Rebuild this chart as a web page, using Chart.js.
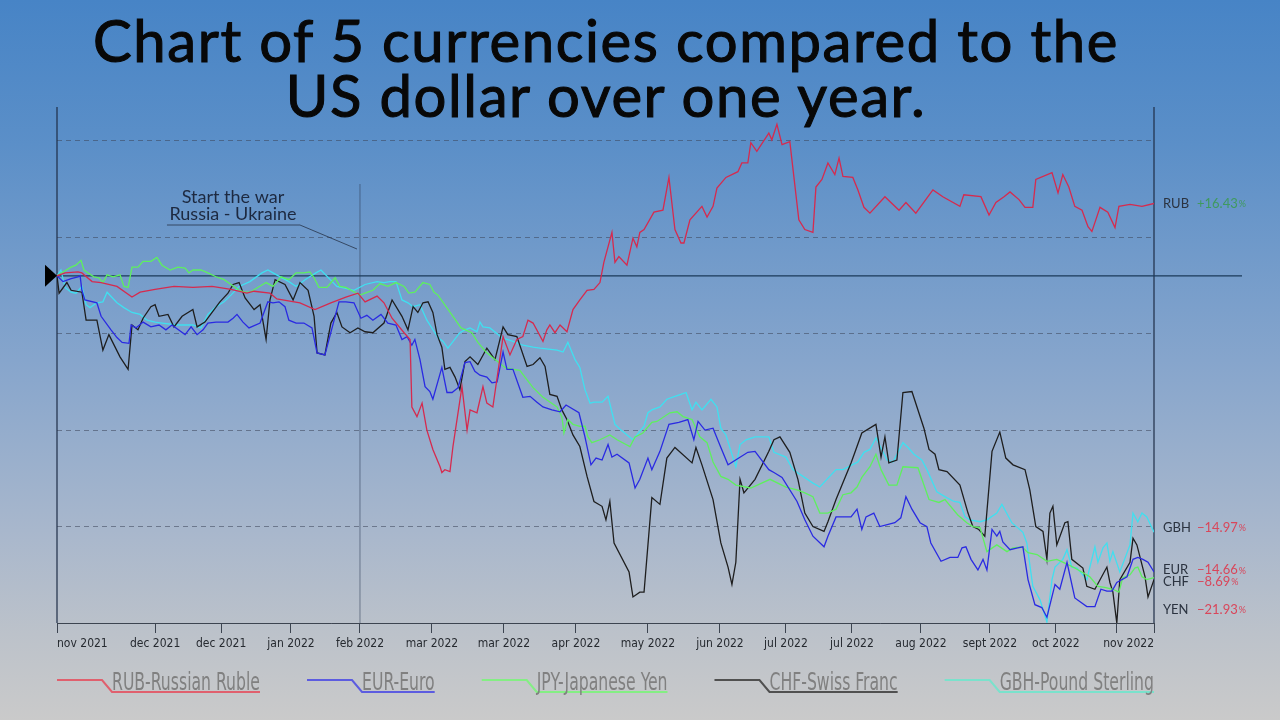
<!DOCTYPE html>
<html lang="en">
<head>
<meta charset="UTF-8">
<title>5 currencies vs US dollar</title>
<script src="https://cdn.jsdelivr.net/npm/chart.js"></script>
<style>
  html, body { margin: 0; padding: 0; }
  body {
    width: 1280px; height: 720px; overflow: hidden; position: relative;
    background: linear-gradient(to bottom, #4784c6 0%, #5b8fc8 20%, #86a5cc 50%, #aab8cc 75%, #bcc2ca 88%, #cacaca 100%);
  }
  #title {
    position: absolute; left: 0; top: 12px; width: 1212px; text-align: center;
    font-family: Lato, 'Open Sans', sans-serif; font-weight: 400; font-size: 58px; line-height: 55px;
    letter-spacing: 1.6px; -webkit-text-stroke: 1.1px #080808;
    color: #080808; pointer-events: none; z-index: 2;
  }
  #chart { position: absolute; left: 0; top: 0; }
</style>
</head>
<body>
<div id="title">Chart of 5 currencies compared to the<br>US dollar over one year.</div>
<canvas id="chart" width="1280" height="720"></canvas>
<script>
// x = days since start (nov 2021), y = change vs USD (grid step = 10)
const tickDays = [0, 32.7, 54.7, 78, 101, 125, 149, 173, 197, 221, 243, 265, 288, 311, 333, 353.3, 365.7];
const tickLabels = ['nov 2021', 'dec 2021', 'dec 2021', 'jan 2022', 'feb 2022', 'mar 2022', 'mar 2022', 'apr 2022',
  'may 2022', 'jun 2022', 'jul 2022', 'jul 2022', 'aug 2022', 'sept 2022', 'oct 2022', '', 'nov 2022'];
const gridLevels = [-36, -26, -16, -6, 4, 14];

const rub = [[0,0],[2.7,0.3],[7,0.4],[8.3,0.3],[11.7,-0.6],[14.7,-0.7],[20,-1.1],[25,-2.2],[27.7,-1.7],[32.7,-1.4],[39,-1.1],[45.3,-1.2],[51.7,-1.1],[58,-1.4],[63.3,-1.8],[65.7,-1.6],[71,-1.8],[73.3,-2.4],[81,-2.8],[86,-3.5],[91.3,-2.8],[96.3,-2.2],[100.3,-1.8],[102.7,-2.7],[106.7,-2.1],[109,-2.8],[111.7,-4.4],[115.7,-5.9],[117.7,-6.6],[118.3,-13.6],[120,-14.6],[121.7,-13.2],[123.3,-16],[125.3,-18],[127.7,-19.8],[128.3,-20.4],[129.3,-20.1],[131,-20.3],[132,-17.7],[135,-11.5],[136.7,-16],[137.7,-13.9],[140,-14.2],[142,-11.5],[143.3,-13.2],[145.3,-13.6],[148.7,-6.3],[151,-8.2],[153.3,-6.6],[155.3,-6.3],[157,-4.6],[158.7,-4.9],[162,-6.8],[163.3,-5.6],[164.3,-5.1],[166,-5.9],[167.7,-5.1],[170,-5.8],[172,-3.5],[174.3,-2.5],[176.7,-1.5],[179,-1.4],[181,-0.7],[182.3,1.4],[185,4.5],[186,1.4],[187.3,2],[190,1.1],[192,3.9],[193.3,3],[194.3,4.5],[195.7,4.8],[199,6.6],[202,6.8],[204,10.2],[206,4.8],[208,3.4],[209,3.4],[211,5.8],[215,7.2],[216.7,6.1],[218.7,7.2],[220,9.1],[223,10.2],[227,10.8],[228.3,11.7],[230.3,11.7],[231.3,13.8],[233.3,12.9],[237.3,14.8],[238.3,14.1],[240,15.7],[241.7,13.6],[244.3,13.9],[247.3,5.8],[249.3,4.8],[252,4.5],[253,9.2],[255,10],[257,11.7],[259.3,10.5],[260.7,12.2],[262,10.3],[265.3,10.2],[267,8.9],[269,7.1],[271,6.5],[276,8.2],[280.7,6.8],[283,7.6],[286.3,6.5],[292,8.9],[295.3,8.2],[301,7.2],[302.3,8.4],[308,8.2],[310.7,6.3],[313,7.6],[315.7,8.2],[317.7,8.7],[320.7,7.9],[322.7,7.1],[325.3,7.1],[326.3,10],[331.7,10.7],[333.7,8.6],[335.3,10.5],[337.3,9.2],[339.3,7.2],[341.7,6.8],[343.7,5.1],[345,4.6],[346.3,5.8],[347.7,7.1],[350.3,6.6],[352.7,5],[354,7.2],[357.7,7.4],[361.7,7.2],[365.7,7.5]];

const eur = [[0,0],[2,-0.6],[4.7,-0.3],[7,-0.1],[7.7,0],[8.3,-1.5],[9.3,-2.5],[13.3,-2.8],[14.7,-4.2],[18,-5.6],[20,-6.4],[21.7,-6.9],[24,-7],[24.7,-5.1],[26.3,-5.4],[28.7,-4.8],[31.3,-5.3],[34,-5.1],[36.3,-5.6],[38.3,-5.1],[42.7,-6.1],[44.7,-5.3],[46.7,-6.1],[48.7,-5.6],[50.3,-4.9],[53,-4.8],[57,-4.8],[58.7,-4.4],[60,-4],[62,-4.8],[64,-5.4],[67.7,-4.9],[70.3,-2.7],[72,-2.8],[74,-2.7],[76,-3.2],[77.3,-4.6],[79.7,-4.9],[82.3,-4.9],[85,-5.4],[86.7,-8],[89.3,-8.2],[94,-2.7],[96.3,-2.7],[99,-2.8],[101.3,-4.4],[103.3,-4.1],[105.3,-4.6],[108,-4],[110.3,-4.9],[113,-5.1],[115,-6.6],[116.7,-6.3],[118.3,-7.2],[119.3,-6.6],[121,-8.7],[122.7,-11.5],[124.3,-12],[125.3,-12.8],[128.3,-9.5],[130,-12.1],[131.7,-12.1],[133.7,-11.6],[136,-9],[137.7,-8.9],[139.3,-9.9],[141,-10.3],[143.3,-10.5],[145,-11.1],[146.7,-11],[148.7,-7.9],[150,-9.7],[152,-9.7],[155.3,-12.6],[157.7,-12.5],[160,-13.1],[162,-13.6],[165,-13.9],[167.7,-14.1],[169.7,-13.4],[174,-14.2],[176,-16.7],[178,-19.6],[179.7,-18.9],[181.7,-19.1],[183.7,-17.5],[185,-18.8],[186.7,-18.5],[190.7,-19.4],[192.7,-22],[194.3,-21.1],[197,-18.9],[198.3,-20.1],[201,-18.2],[204,-15.4],[207.3,-15.2],[210.3,-14.9],[212.3,-17],[213.7,-15.1],[216,-16],[218.7,-15.8],[221.3,-17.8],[223.7,-19.6],[230.3,-18.3],[232.7,-18.2],[237.3,-20.1],[239,-20.4],[241.7,-20.9],[246.7,-23.4],[249.3,-25.3],[252,-27],[255.7,-28.1],[257,-27],[259.7,-25],[264.7,-25],[266.7,-24.2],[268.3,-26.3],[269.7,-25],[272.3,-24.6],[274.3,-26],[279.3,-25.6],[281.3,-25.1],[283,-22.9],[285,-24.2],[287.7,-25.6],[290,-26],[291.3,-27.7],[294.7,-29.6],[297.7,-29.2],[300.3,-29.2],[301.7,-28.2],[303,-28.1],[304.7,-29.4],[307,-30.5],[308.7,-29.4],[310,-30.5],[311.7,-26.3],[313.3,-27],[314.3,-26.5],[315.3,-27.6],[317.7,-28.4],[320.3,-28.2],[322,-28.1],[323.7,-31.5],[326,-34.1],[328.3,-34.4],[330,-35.4],[332.7,-32],[334.3,-32.5],[336.7,-29.7],[339.3,-33.4],[343.3,-34.3],[346,-34.3],[348,-32.5],[350,-32.7],[351.7,-32.7],[353.3,-31.8],[356.7,-31.2],[358.7,-29.4],[360.3,-29.2],[362,-29.4],[363.7,-29.7],[365.7,-30.7]];

const jpy = [[0,0],[2,0.4],[4.7,0.9],[6.3,1.1],[8,1.6],[9,0.6],[10.3,0.3],[12.3,-0.1],[14,-0.2],[15.3,-0.7],[16.7,0.1],[18.7,-0.1],[21,0.1],[22.3,-1.1],[23.7,-1.2],[25,0.9],[27,0.9],[28.7,1.5],[31.3,1.5],[33.3,1.9],[35,1.1],[37.7,0.6],[40.3,0.9],[42.7,0.8],[44,0.3],[45.3,0.6],[48,0.6],[50.3,0.3],[53,-0.1],[55.7,-0.4],[58,-0.9],[60.7,-1.5],[62.7,-1.7],[64.3,-1.7],[69.7,-0.7],[72,-1.1],[74.7,-0.1],[77.3,-0.4],[79.7,0.3],[82.3,0.3],[84.3,0.4],[85.7,-0.2],[87.3,-1.2],[90,-1.2],[92.7,-0.2],[94.3,-1.1],[96.3,-1.2],[101,-2],[102.7,-1.8],[105.3,-1.5],[107.7,-0.8],[110.3,-1.1],[113,-0.7],[115.7,-1.1],[117.3,-1.8],[119.3,-1.7],[122,-0.7],[124.3,-0.9],[125.7,-1.7],[127,-2],[129.7,-3.2],[132,-4.2],[134.7,-5.4],[138.3,-5.9],[140.3,-6.9],[143,-7.9],[145.3,-8.5],[147.3,-9],[149.3,-9.5],[152,-9.7],[154.3,-9.8],[156.7,-10.8],[158.7,-11.6],[162,-12.6],[166.7,-13.6],[168.3,-14.6],[169,-16.3],[170.3,-14.9],[172,-15.4],[174.3,-15.6],[176,-15.6],[177,-16.7],[178.3,-17.3],[181,-17],[184.3,-16.5],[186.7,-17],[191,-17.7],[192.7,-16.7],[195.3,-16.3],[198.3,-15.2],[200,-15.1],[204.3,-14.2],[206.7,-14.1],[208.7,-14.6],[211.7,-14.9],[214.3,-16.7],[216.7,-17.3],[218.7,-19.3],[221.3,-20.8],[223.7,-21.1],[226.3,-21.7],[231.3,-22],[237.7,-21.1],[243,-21.9],[246.7,-22.2],[249.3,-22.5],[252,-22.9],[254.3,-24.6],[257,-24.6],[259.7,-24.2],[262,-22.7],[264.7,-22.5],[266.7,-21.9],[268.3,-20.9],[271,-19.8],[273,-18.5],[274.7,-20.1],[277.3,-21.7],[280,-21.7],[282,-19.8],[287,-19.9],[290.7,-23.2],[294,-23.5],[296,-23.2],[300.3,-24.8],[303.3,-25.6],[305.3,-26],[307.7,-26.1],[310,-28.6],[313.3,-27.9],[316.7,-28.6],[318.7,-28.2],[321.7,-28.1],[323.7,-28.7],[326.7,-28.9],[330,-29.6],[333.3,-29.4],[336.7,-29.9],[339.3,-30.3],[344.3,-31.2],[347,-32.2],[349.3,-32.3],[352,-32.5],[354,-32.8],[355.3,-31.3],[357.7,-31],[359.3,-30.3],[360.3,-30.2],[361.7,-31.2],[363.3,-31.5],[365.7,-31.3]];

const chf = [[0,0],[0.7,-1.8],[3.3,-0.7],[4.7,-1.5],[8.3,-1.7],[9.7,-4.6],[13.3,-4.6],[15.3,-7.7],[17.3,-6.1],[21,-8.4],[23.7,-9.7],[25,-5.1],[27,-5.6],[28.7,-4.4],[31.3,-3.2],[32.7,-3],[34,-4.2],[37,-4],[39,-5.3],[41.7,-4.2],[45.3,-3.5],[46.7,-5.3],[49.3,-4.8],[51.7,-3.8],[54.3,-2.7],[57,-1.8],[58.7,-0.9],[60.7,-0.7],[62.7,-2.3],[65.7,-3.5],[67.7,-3],[69.7,-6.6],[71,-2.5],[72.7,-0.4],[76,-0.9],[78.7,-2.5],[81,-0.7],[83.7,-1.5],[85.7,-4.2],[86.7,-8],[89.3,-8.2],[91.3,-4.9],[93.3,-3.8],[95,-5.3],[97.7,-5.9],[100.3,-5.4],[102.7,-5.8],[105.3,-5.9],[109,-4.9],[111.7,-2.5],[115,-4.2],[117,-5.6],[118.7,-3.2],[120.3,-3.8],[122,-2.8],[123.7,-2.7],[125.3,-3.8],[126.7,-6.1],[128.3,-7.4],[129.3,-9.7],[131,-9.5],[132.7,-10.5],[134.3,-11.8],[136,-8.9],[137.7,-8.4],[140.3,-9.2],[143.3,-7.5],[146,-8.7],[148.7,-5.3],[150.3,-6.1],[153.3,-6.3],[156.7,-9.4],[158.7,-9.2],[161,-8.5],[162.7,-9.4],[164.3,-12.3],[166.7,-12.5],[168.3,-13.9],[170,-14.9],[172,-16.5],[174.3,-17.7],[176.7,-20.8],[179,-23.4],[181.7,-23.9],[183,-25.3],[184.3,-23.4],[185.7,-27.7],[190.7,-30.7],[192,-33.3],[194.3,-32.8],[195.7,-32.8],[198.3,-23],[201,-23.7],[203.3,-18.9],[206,-17.8],[211.7,-19.4],[213,-17.8],[215,-19.6],[218.7,-23.2],[221.3,-27.7],[223.7,-30.2],[225,-32],[226.3,-29.7],[227.7,-21.1],[229,-22.5],[232.7,-21.1],[237.3,-18.2],[239,-17],[241,-16.7],[244.3,-18.3],[247,-21.1],[249.3,-24.6],[252,-26],[255.7,-26.5],[257,-25.5],[259.7,-23.2],[264.7,-19.4],[266,-18.3],[268.3,-16.3],[273,-15.4],[274.7,-18.8],[276,-16.7],[277.3,-19.4],[280,-19.1],[282,-12.1],[285,-12],[289,-15.8],[290.7,-18],[292.7,-18.5],[294,-20.1],[296.7,-20.3],[301,-21.7],[303.7,-24.6],[305.3,-26],[307.3,-26.3],[309.3,-27],[311.7,-18.2],[314.3,-16.2],[316.3,-18.9],[318.7,-19.6],[322.7,-20.1],[324.3,-22.2],[326.3,-26],[328.7,-26.5],[330,-29.4],[331,-24.6],[332,-23.9],[333.3,-27.9],[336,-25.6],[337,-25.5],[338.3,-29.4],[342,-30.3],[343.3,-32.2],[346,-32.5],[350,-30.2],[351,-31.8],[352,-32.8],[353.3,-36],[354.3,-31.5],[357.7,-29.7],[358.7,-27.2],[360,-27.9],[362.7,-31.2],[363.7,-33.3],[365.7,-31.5]];

const gbp = [[0,0],[1.3,0.6],[2.7,-1.2],[4.7,-1.7],[6.3,-1.8],[8.3,-1.1],[9.7,-3],[11,-3.3],[13.3,-2.8],[15.3,-2.7],[16.7,-1.7],[20,-2.8],[22.3,-3.3],[25,-3.8],[27.7,-4],[30,-4.6],[32.7,-4.8],[35,-4.9],[40.3,-5.1],[45.3,-5.1],[48,-5.4],[50.3,-4],[53,-3.2],[55.7,-2.7],[58,-2],[60.7,-1.1],[64.3,-0.6],[68.3,0.3],[70.3,0.6],[72,0.3],[77.3,-0.6],[79.7,-1.1],[82.7,-0.4],[86.3,0.3],[88,0.6],[93.3,-1.1],[99,-1.5],[102.7,-0.9],[106.7,-0.6],[109,-0.7],[111,-0.6],[113,-0.6],[115,-2.5],[117,-2.8],[118.7,-3.2],[121,-3],[123.3,-4.6],[127,-6.4],[128.7,-6.8],[130.3,-7.5],[134.3,-5.9],[136,-5.6],[137.7,-5.4],[140,-5.8],[141,-4.8],[142,-5.3],[144.3,-5.4],[148.3,-6.4],[150,-6.6],[152,-6.8],[155.3,-7.2],[158.7,-7.4],[161,-7.5],[166.7,-7.7],[168.7,-7.9],[170.3,-6.9],[172.7,-8.7],[174.3,-9.5],[176,-11.8],[177.7,-13.2],[179,-13.1],[181.7,-13.1],[183.7,-12.5],[186,-15.4],[188,-16],[192,-17],[195.7,-15.6],[197,-14.2],[198.3,-13.9],[201,-13.6],[203.3,-12.8],[206,-12.5],[208,-12.3],[209.7,-12.1],[211.7,-13.9],[213,-13.1],[215,-13.9],[218,-12.8],[220,-13.6],[221.3,-15.8],[223,-16.5],[226.3,-19.8],[227.7,-17.5],[229.7,-17],[232.7,-16.7],[237.3,-16.7],[239,-18.3],[243,-18.8],[245.3,-20.1],[252,-21.5],[254.3,-21.9],[259.7,-20.1],[262,-20.1],[267,-19.3],[269,-18.3],[271,-18],[273,-16.8],[276.7,-19.1],[278.7,-19.3],[282,-17.3],[283.7,-17.8],[285.7,-18.5],[288.3,-19.1],[290,-20.1],[293.3,-22.4],[296,-22.9],[299,-23.4],[301,-23.5],[302.7,-25],[304.3,-25.3],[307.7,-25.5],[310,-25.3],[313.3,-24.6],[315,-23.7],[318.3,-25.6],[322,-26.6],[323.3,-27.7],[325.3,-32.2],[327.7,-33.6],[330,-35.9],[331.7,-31.5],[332.7,-30.2],[335.3,-29.4],[336.7,-28.4],[338.3,-30.2],[340,-30.3],[343.3,-31.5],[346,-28.1],[347,-29.7],[348.7,-28.2],[350,-27.7],[351,-29.6],[352,-28.6],[354.3,-30.7],[357.7,-27.9],[358.7,-24.6],[360.3,-25.5],[361.7,-24.6],[363.3,-25],[365.7,-26.6]];

const seriesNames = ['RUB-Russian Ruble', 'EUR-Euro', 'JPY-Japanese Yen', 'CHF-Swiss Franc', 'GBH-Pound Sterling'];
const seriesData = [rub, eur, jpy, chf, gbp];
const seriesColors = ['#d62a4e', '#2a2ae2', '#5ef05e', '#1e1e1e', '#3fe0f0'];
const legendColors = ['#e0606e', '#5c5ce0', '#84ee84', '#505050', '#7ae2cc'];

// end labels on the right
const endNames = ['RUB', 'GBH', 'EUR', 'CHF', 'YEN'];
const endChanges = ['+16.43', '\u221214.97', '\u221214.66', '\u22128.69', '\u221221.93'];
const endLevels = [7.5, -26.1, -30.5, -31.7, -34.6];

const warDay = 101;
const warText = ['Start the war', 'Russia - Ukraine'];

const narrow = "'DejaVu Sans Condensed', 'Liberation Sans Narrow', 'Liberation Sans', sans-serif";

const decor = {
  id: 'decor',
  beforeDatasetsDraw(chart) {
    const { ctx, chartArea: a, scales: { x, y } } = chart;
    ctx.save();
    // frame verticals
    ctx.strokeStyle = 'rgba(30,45,70,0.8)';
    ctx.lineWidth = 1.5;
    ctx.beginPath();
    ctx.moveTo(a.left, a.top - 1); ctx.lineTo(a.left, a.bottom);
    ctx.moveTo(a.right, a.top - 1); ctx.lineTo(a.right, a.bottom);
    ctx.stroke();
    // war marker
    const wx = x.getPixelForValue(warDay);
    ctx.strokeStyle = 'rgba(45,60,85,0.55)';
    ctx.lineWidth = 1;
    ctx.beginPath();
    ctx.moveTo(wx, a.top + 76); ctx.lineTo(wx, a.bottom);
    ctx.stroke();
    ctx.fillStyle = '#1d2940';
    ctx.font = "18px Lato, 'Open Sans', sans-serif";
    ctx.textAlign = 'center';
    ctx.textBaseline = 'middle';
    ctx.fillText(warText[0], wx - 127, a.top + 89);
    ctx.fillText(warText[1], wx - 127, a.top + 106);
    ctx.strokeStyle = 'rgba(35,45,65,0.75)';
    ctx.beginPath();
    ctx.moveTo(wx - 193, a.top + 117); ctx.lineTo(wx - 60, a.top + 117); ctx.lineTo(wx - 3, a.top + 141);
    ctx.stroke();
    // zero line, running out past the plot
    const zy = y.getPixelForValue(0);
    ctx.strokeStyle = '#1b3a5a';
    ctx.lineWidth = 1.2;
    ctx.beginPath();
    ctx.moveTo(a.left, zy); ctx.lineTo(1242, zy);
    ctx.stroke();
    ctx.restore();
  },
  afterDraw(chart) {
    const { ctx, chartArea: a, scales: { y } } = chart;
    ctx.save();
    // start marker
    const zy = y.getPixelForValue(0);
    ctx.fillStyle = '#000';
    ctx.beginPath();
    ctx.moveTo(a.left - 12, zy - 11); ctx.lineTo(a.left, zy); ctx.lineTo(a.left - 12, zy + 11);
    ctx.closePath(); ctx.fill();

    // end labels
    ctx.textBaseline = 'middle';
    ctx.textAlign = 'left';
    endNames.forEach((n, i) => {
      const ly = y.getPixelForValue(endLevels[i]);
      ctx.font = "13px Lato, 'Open Sans', sans-serif";
      ctx.fillStyle = '#2b3340';
      ctx.fillText(n, a.right + 9, ly);
      const up = endChanges[i][0] === '+';
      ctx.fillStyle = up ? '#3f9a5e' : '#d9465a';
      ctx.fillText(endChanges[i], a.right + 43, ly);
      const w = ctx.measureText(endChanges[i]).width;
      ctx.font = "9px Lato, 'Open Sans', sans-serif";
      ctx.fillText('%', a.right + 44 + w, ly + 1);
    });

    // legend
    const y1 = 680, y2 = 692, lead = 45, slant = 10, gap = 47;
    ctx.font = '24px ' + narrow;
    ctx.textBaseline = 'alphabetic';
    const widths = seriesNames.map(n => ctx.measureText(n).width);
    const room = (a.right - a.left) - seriesNames.length * (lead + slant) - (seriesNames.length - 1) * gap;
    const k = room / widths.reduce((s, v) => s + v, 0);
    let lx = a.left;
    seriesNames.forEach((n, i) => {
      const w = widths[i] * k;
      ctx.strokeStyle = legendColors[i];
      ctx.lineWidth = 2;
      ctx.beginPath();
      ctx.moveTo(lx, y1); ctx.lineTo(lx + lead, y1); ctx.lineTo(lx + lead + slant, y2); ctx.lineTo(lx + lead + slant + w, y2);
      ctx.stroke();
      ctx.save();
      ctx.translate(lx + lead + slant, y2 - 2);
      ctx.scale(k, 1);
      ctx.fillStyle = '#808080';
      ctx.fillText(n, 0, 0);
      ctx.restore();
      lx += lead + slant + w + gap;
    });
    ctx.restore();
  }
};

new Chart(document.getElementById('chart'), {
  type: 'line',
  data: {
    datasets: seriesData.map((s, i) => ({
      label: seriesNames[i],
      data: s.map(p => ({ x: p[0], y: p[1] })),
      borderColor: seriesColors[i],
      borderWidth: 1.3,
      pointRadius: 0,
      tension: 0,
      fill: false
    }))
  },
  options: {
    responsive: false,
    animation: false,
    devicePixelRatio: 1,
    layout: { padding: { top: 108, left: 57, right: 126, bottom: 57 } },
    plugins: { legend: { display: false }, tooltip: { enabled: false } },
    scales: {
      x: {
        type: 'linear', min: 0, max: 365.7,
        afterBuildTicks: s => { s.ticks = tickDays.map(v => ({ value: v })); },
        afterFit: s => { s.height = 40; },
        ticks: {
          autoSkip: false, maxRotation: 0, align: 'inner', padding: 4,
          color: '#262a30', font: { size: 12, family: narrow },
          callback: (v, i) => tickLabels[i]
        },
        grid: { drawOnChartArea: false, tickLength: 10, color: '#3c4450', lineWidth: 1 },
        border: { display: true, color: '#3c4450', width: 1 }
      },
      y: {
        min: -36, max: 17.4,
        afterBuildTicks: s => { s.ticks = gridLevels.map(v => ({ value: v })); },
        afterFit: s => { s.width = 0; },
        ticks: { display: false },
        grid: { drawTicks: false, color: 'rgba(60,70,90,0.55)', lineWidth: 1 },
        border: { display: false, dash: [5, 4] }
      }
    }
  },
  plugins: [decor]
});
</script>
</body>
</html>
